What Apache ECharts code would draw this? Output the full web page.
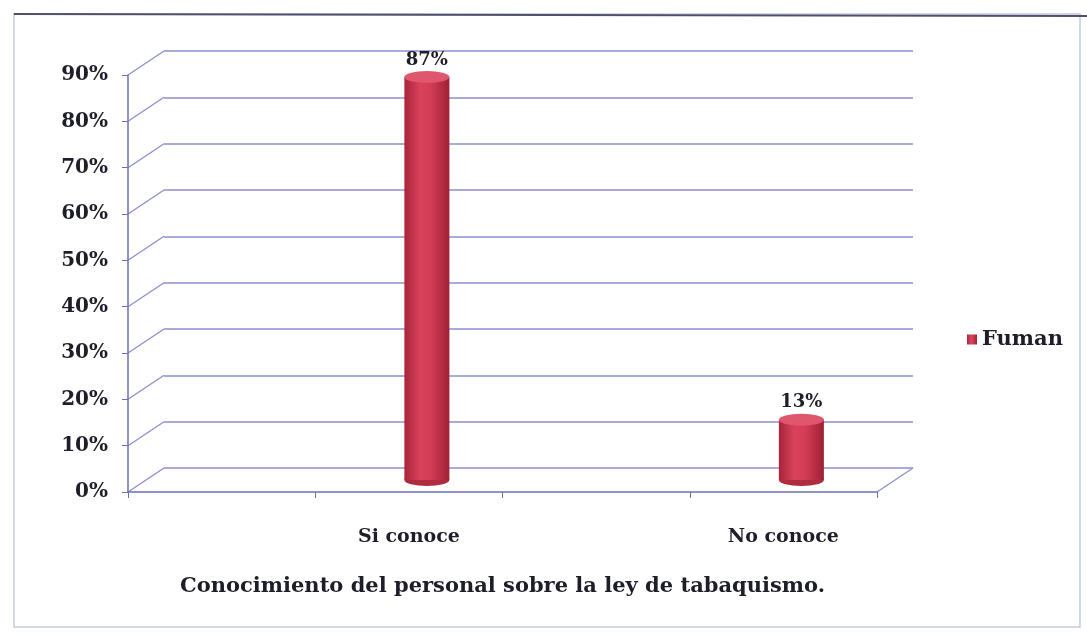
<!DOCTYPE html>
<html>
<head>
<meta charset="utf-8">
<script src="https://cdn.jsdelivr.net/npm/echarts@6/dist/echarts.min.js"></script>
<style>
  html, body { margin: 0; padding: 0; background: #fff; }
  #chart { width: 1087px; height: 637px; }
</style>
</head>
<body>
<div id="chart"></div>
<script>
// 数据
const categories = ['', 'Si conoce', '', 'No conoce'];
const fumanValues = [null, 87, null, 13];
const yTicks = [0, 10, 20, 30, 40, 50, 60, 70, 80, 90];
const seriesName = 'Fuman';
const axisTitle = 'Conocimiento del personal sobre la ley de tabaquismo.';

const gridColor = '#8c90cf';
const axisColor = '#6c70b4';
const textColor = '#1e1e2a';
const serif = '"DejaVu Serif", "Liberation Serif", serif';

// 三层网格：后墙、柱子所在的中间层、前面的坐标轴
const FRONT = { left: 128, right: 210, top: 75, bottom: 145 };
const DX = 36, DY = 24;

function shifted(k) {
  return {
    left: FRONT.left + DX * k,
    right: FRONT.right - DX * k,
    top: FRONT.top - DY * k,
    bottom: FRONT.bottom + DY * k
  };
}

const chart = echarts.init(document.getElementById('chart'));

const yBase = { type: 'value', min: 0, max: 90, interval: 10 };

const option = {
  animation: false,
  backgroundColor: '#fff',
  grid: [shifted(1), shifted(0.5), shifted(0)],
  legend: {
    data: [seriesName],
    orient: 'vertical',
    left: 962,
    top: 324,
    itemWidth: 10,
    itemHeight: 10,
    icon: 'rect',
    itemGap: 4,
    textStyle: { fontFamily: serif, fontWeight: 'bold', fontSize: 21, color: textColor }
  },
  xAxis: [
    { gridIndex: 0, type: 'category', data: categories, show: false },
    { gridIndex: 1, type: 'category', data: categories, show: false },
    {
      gridIndex: 2, type: 'category', data: categories,
      axisLine: { lineStyle: { color: axisColor, width: 1.5 } },
      axisTick: { show: true, interval: 0, length: 6, lineStyle: { color: axisColor } },
      axisLabel: {
        interval: 0, margin: 36,
        fontFamily: serif, fontWeight: 'bold', fontSize: 19, color: textColor
      },
      name: axisTitle,
      nameLocation: 'middle',
      nameGap: 84,
      nameTextStyle: { fontFamily: serif, fontWeight: 'bold', fontSize: 21, color: textColor }
    }
  ],
  yAxis: [
    Object.assign({ gridIndex: 0, axisLine: { show: false }, axisTick: { show: false },
      axisLabel: { show: false },
      splitLine: { show: true, lineStyle: { color: gridColor, width: 1.5 } } }, yBase),
    Object.assign({ gridIndex: 1, show: false, splitLine: { show: false } }, yBase),
    Object.assign({ gridIndex: 2,
      axisLine: { show: true, lineStyle: { color: axisColor, width: 1.5 } },
      axisTick: { show: true, length: 6, lineStyle: { color: axisColor } },
      splitLine: { show: false },
      axisLabel: {
        formatter: '{value}%', margin: 20,
        fontFamily: serif, fontWeight: 'bold', fontSize: 20, color: textColor
      } }, yBase)
  ],
  series: [
    {
      name: seriesName,
      type: 'bar',
      xAxisIndex: 1, yAxisIndex: 1,
      data: fumanValues,
      barWidth: 45,
      itemStyle: {
        color: new echarts.graphic.LinearGradient(0, 0, 1, 0, [
          { offset: 0, color: '#a8243a' },
          { offset: 0.35, color: '#d8435c' },
          { offset: 0.6, color: '#d23c55' },
          { offset: 1, color: '#9e2035' }
        ])
      },
      z: 3
    },
    {
      // 圆柱底部椭圆
      name: seriesName,
      type: 'pictorialBar',
      xAxisIndex: 1, yAxisIndex: 1,
      data: fumanValues,
      symbol: 'circle',
      symbolSize: [45, 12],
      symbolPosition: 'start',
      symbolOffset: [0, '50%'],
      itemStyle: { color: '#b02a40' },
      z: 2
    },
    {
      // 圆柱顶部椭圆 + 数值标签
      name: seriesName,
      type: 'pictorialBar',
      xAxisIndex: 1, yAxisIndex: 1,
      data: fumanValues,
      symbol: 'circle',
      symbolSize: [45, 12],
      symbolPosition: 'end',
      symbolOffset: [0, '-50%'],
      itemStyle: { color: '#e0566d' },
      label: {
        show: true, position: 'top', distance: 2,
        formatter: '{c}%',
        fontFamily: serif, fontWeight: 'bold', fontSize: 18, color: textColor
      },
      z: 4
    }
  ]
};

chart.setOption(option);

// 3D 效果的斜线：前轴刻度连到后墙网格线
function drawDepthLines() {
  const back = shifted(1);
  const lines = [];
  yTicks.forEach(v => {
    const yf = chart.convertToPixel({ yAxisIndex: 2 }, v);
    const yb = chart.convertToPixel({ yAxisIndex: 0 }, v);
    lines.push({
      type: 'line',
      shape: { x1: FRONT.left, y1: yf, x2: back.left, y2: yb },
      style: { stroke: gridColor, lineWidth: 1.3 }
    });
  });
  // 地板右边
  const y0f = chart.convertToPixel({ yAxisIndex: 2 }, 0);
  const y0b = chart.convertToPixel({ yAxisIndex: 0 }, 0);
  lines.push({
    type: 'line',
    shape: { x1: 1087 - FRONT.right, y1: y0f, x2: 1087 - back.right, y2: y0b },
    style: { stroke: gridColor, lineWidth: 1.3 }
  });
  // 外框
  lines.push({
    type: 'rect',
    shape: { x: 14, y: 14, width: 1066, height: 613 },
    style: { fill: 'none', stroke: '#c3cbe0', lineWidth: 1.5 },
    z: -1
  });
  lines.push({
    type: 'line',
    shape: { x1: 14, y1: 14, x2: 1087, y2: 16 },
    style: { stroke: '#50506a', lineWidth: 2 }
  });
  chart.setOption({ graphic: { elements: lines } });
}

drawDepthLines();
</script>
</body>
</html>
